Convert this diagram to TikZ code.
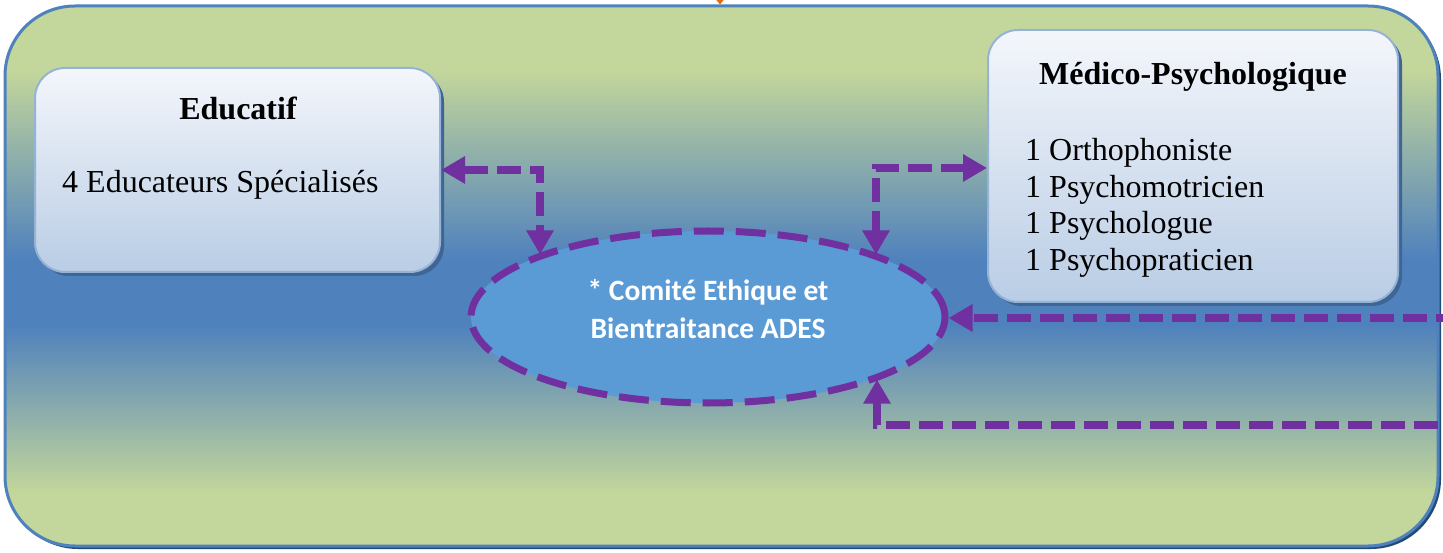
\documentclass[tikz,border=0pt]{standalone}
\usepackage{fontspec}
\setmainfont{Liberation Serif}
\newfontfamily\calibri{Carlito}
\usetikzlibrary{arrows.meta,shapes.geometric,shadows}

\definecolor{frameGreen}{HTML}{C3D69B}
\definecolor{frameBlue}{HTML}{4F81BD}
\definecolor{frameShadow}{HTML}{244A7A}
\definecolor{boxTop}{HTML}{F4F6FB}
\definecolor{boxBottom}{HTML}{B9CDE5}
\definecolor{boxEdge}{HTML}{95B3D7}
\definecolor{boxShadow}{HTML}{3E6593}
\definecolor{comiteFill}{HTML}{5B9BD5}
\definecolor{linkPurple}{HTML}{7030A0}
\definecolor{topOrange}{HTML}{E46C0A}

% green - blue - green band of the frame
\pgfdeclareverticalshading{frameband}{100bp}{color(0bp)=(frameGreen); color(30bp)=(frameGreen);
  color(45.5bp)=(frameBlue); color(51.5bp)=(frameBlue); color(69bp)=(frameGreen); color(100bp)=(frameGreen)}

\tikzset{
  servicebox/.style={draw=boxEdge,line width=2pt,rounded corners=30pt,top color=boxTop,bottom color=boxBottom,inner sep=0pt,
    drop shadow={shadow xshift=4pt,shadow yshift=-4pt,fill=boxShadow,opacity=1}},
  boxtitle/.style={font=\fontsize{32}{37}\selectfont\bfseries},
  boxtext/.style={font=\fontsize{32}{36.7}\selectfont,align=left,inner sep=0pt},
  link/.style={draw=linkPurple,line width=8pt,line join=miter,dash pattern=on 24pt off 9pt,-{Triangle[length=24pt,width=26pt]}},
  biglink/.style={link,{Triangle[length=24pt,width=26pt]}-{Triangle[length=24pt,width=26pt]}},
}

\begin{document}
\begin{tikzpicture}[x=1pt,y=-1pt]
    \useasboundingbox (0,0) rectangle (1443,553);
    \clip (0,0) rectangle (1443,553);

    % outer frame
    \node[draw=frameBlue,line width=3pt,rounded corners=70pt,shading=frameband,
      minimum width=1433pt,minimum height=540pt,inner sep=0pt,
      drop shadow={shadow xshift=3pt,shadow yshift=-3pt,fill=frameShadow,opacity=1}] (frame) at (721.5,276) {};

    % services
    \node[servicebox,minimum width=405pt,minimum height=204pt] (eduBox) at (237.5,170) {};
    \node[servicebox,minimum width=410pt,minimum height=272pt] (medBox) at (1193,166) {};
    \node[boxtitle] (eduTitle) at (238,108) {Educatif};
    \node[boxtext,anchor=west] (eduStaff) at (62,185) {4 Educateurs Spécialisés};
    \node[boxtitle] (medTitle) at (1193,77) {Médico-Psychologique};
    \node[boxtext,anchor=west] (medStaff) at (1025,208) {1 Orthophoniste\\1 Psychomotricien\\1 Psychologue\\1 Psychopraticien};

    % comite
    \node[ellipse,draw=linkPurple,line width=7pt,dash pattern=on 30pt off 12pt,fill=comiteFill,
      minimum width=474pt,minimum height=172pt,inner sep=0pt] (comite) at (708,317) {};
    \node[font=\calibri\fontsize{29.5}{38}\selectfont\bfseries,text=white,align=center] (comiteText) at (708,309) {* Comité Ethique et\\Bientraitance ADES};

    % links
    \coordinate (eduBend) at (540,170);
    \coordinate (medBend) at (876,168);
    \coordinate (farIn) at (1460,318);
    \coordinate (farLow) at (1460,425);
    \coordinate (lowBend) at (877,425);
    \coordinate (topIn) at (720,-40);

    \draw[biglink] (eduBox.east |- eduBend) -- (eduBend) -- (eduBend |- comite.160);
    \draw[biglink] (medBox.west |- medBend) -- (medBend) -- (medBend |- comite.20);
    \draw[link] (farIn) -- (comite.east |- farIn);
    \draw[link,dash phase=11pt] (farLow) -- (lowBend) -- (lowBend |- comite.340);
    \draw[topOrange,line width=2pt,-{Triangle[length=10pt,width=16pt]}] (topIn) -- (frame.north -| topIn);
\end{tikzpicture}
\end{document}
